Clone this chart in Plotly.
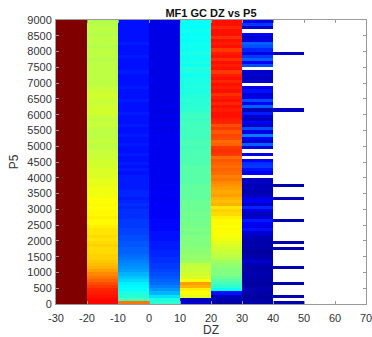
import plotly.graph_objects as go

nan = None

# DZ bin centers (columns) and P5 bin centers (rows, 100-wide bins from 0 to 9000)
dz_centers = [-25, -15, -5, 5, 15, 25, 35, 45]
p5_centers = [50 + 100 * i for i in range(90)]

x_ticks = [-30, -20, -10, 0, 10, 20, 30, 40, 50, 60, 70]
y_ticks = [0, 500, 1000, 1500, 2000, 2500, 3000, 3500, 4000, 4500,
           5000, 5500, 6000, 6500, 7000, 7500, 8000, 8500, 9000]

# normalized values (0..1 on jet scale); each list runs from P5 bin 0-100 upward
col_m25 = [1.0, 1.0, 1.0, 1.0, 1.0, 1.0, 1.0, 1.0, 1.0, 1.0,
           1.0, 1.0, 1.0, 1.0, 1.0, 1.0, 1.0, 1.0, 1.0, 1.0,
           1.0, 1.0, 1.0, 1.0, 1.0, 1.0, 1.0, 1.0, 1.0, 1.0,
           1.0, 1.0, 1.0, 1.0, 1.0, 1.0, 1.0, 1.0, 1.0, 1.0,
           1.0, 1.0, 1.0, 1.0, 1.0, 1.0, 1.0, 1.0, 1.0, 1.0,
           1.0, 1.0, 1.0, 1.0, 1.0, 1.0, 1.0, 1.0, 1.0, 1.0,
           1.0, 1.0, 1.0, 1.0, 1.0, 1.0, 1.0, 1.0, 1.0, 1.0,
           1.0, 1.0, 1.0, 1.0, 1.0, 1.0, 1.0, 1.0, 1.0, 1.0,
           1.0, 1.0, 1.0, 1.0, 1.0, 1.0, 1.0, 1.0, 1.0, 1.0]

col_m15 = [0.87, 0.87, 0.86, 0.85, 0.84, 0.82, 0.80, 0.78, 0.76, 0.74,
           0.72, 0.70, 0.69, 0.68, 0.67, 0.67, 0.66, 0.66, 0.67, 0.66,
           0.65, 0.66, 0.65, 0.65, 0.64, 0.63, 0.63, 0.64, 0.63, 0.63,
           0.62, 0.63, 0.62, 0.62, 0.61, 0.61, 0.61, 0.60, 0.60, 0.60,
           0.59, 0.59, 0.59, 0.58, 0.58, 0.58, 0.57, 0.57, 0.57, 0.56,
           0.56, 0.57, 0.56, 0.56, 0.56, 0.56, 0.57, 0.57, 0.56, 0.57,
           0.58, 0.58, 0.58, 0.57, 0.57, 0.58, 0.58, 0.57, 0.57, 0.56,
           0.56, 0.56, 0.56, 0.56, 0.56, 0.56, 0.56, 0.55, 0.56, 0.56,
           0.56, 0.55, 0.56, 0.56, 0.56, 0.55, 0.56, 0.56, 0.55, 0.55]

col_m5 = [0.76, 0.44, 0.42, 0.40, 0.38, 0.37, 0.36, 0.34, 0.32, 0.30,
          0.28, 0.27, 0.26, 0.25, 0.24, 0.23, 0.22, 0.22, 0.21, 0.21,
          0.20, 0.20, 0.19, 0.19, 0.18, 0.18, 0.18, 0.17, 0.17, 0.17,
          0.16, 0.17, 0.16, 0.15, 0.16, 0.16, 0.15, 0.15, 0.15, 0.15,
          0.15, 0.14, 0.15, 0.14, 0.15, 0.14, 0.14, 0.15, 0.14, 0.14,
          0.15, 0.14, 0.14, 0.15, 0.14, 0.14, 0.15, 0.14, 0.14, 0.14,
          0.15, 0.14, 0.14, 0.14, 0.15, 0.14, 0.14, 0.14, 0.15, 0.14,
          0.14, 0.14, 0.14, 0.15, 0.14, 0.14, 0.14, 0.14, 0.15, 0.14,
          0.14, 0.14, 0.15, 0.14, 0.14, 0.14, 0.14, 0.14, 0.14, 0.14]

col_5 = [0.42, 0.40, 0.35, 0.30, 0.27, 0.25, 0.23, 0.22, 0.21, 0.20,
         0.19, 0.18, 0.18, 0.17, 0.17, 0.16, 0.16, 0.15, 0.15, 0.15,
         0.14, 0.14, 0.14, 0.13, 0.13, 0.13, 0.13, 0.12, 0.12, 0.12,
         0.12, 0.12, 0.12, 0.11, 0.12, 0.12, 0.11, 0.12, 0.11, 0.11,
         0.11, 0.11, 0.11, 0.11, 0.11, 0.11, 0.11, 0.11, 0.11, 0.11,
         0.11, 0.11, 0.11, 0.11, 0.11, 0.10, 0.11, 0.11, 0.10, 0.11,
         0.10, 0.10, 0.11, 0.10, 0.10, 0.10, 0.10, 0.10, 0.10, 0.10,
         0.10, 0.10, 0.10, 0.10, 0.10, 0.10, 0.10, 0.10, 0.10, 0.10,
         0.10, 0.10, 0.10, 0.10, 0.10, 0.10, 0.10, 0.10, 0.10, 0.10]

col_15 = [0.08, 0.06, 0.60, 0.62, 0.64, 0.70, 0.72, 0.62, 0.59, 0.58,
          0.57, 0.57, 0.56, 0.53, 0.52, 0.52, 0.51, 0.51, 0.50, 0.50,
          0.50, 0.50, 0.49, 0.50, 0.49, 0.49, 0.49, 0.48, 0.49, 0.48,
          0.48, 0.48, 0.48, 0.47, 0.47, 0.47, 0.47, 0.47, 0.46, 0.46,
          0.46, 0.46, 0.46, 0.46, 0.45, 0.45, 0.45, 0.45, 0.45, 0.44,
          0.45, 0.45, 0.44, 0.44, 0.44, 0.44, 0.44, 0.44, 0.43, 0.44,
          0.43, 0.42, 0.42, 0.41, 0.42, 0.41, 0.41, 0.40, 0.41, 0.40,
          0.40, 0.40, 0.39, 0.40, 0.41, 0.39, 0.40, 0.39, 0.39, 0.40,
          0.39, 0.39, 0.39, 0.38, 0.39, 0.38, 0.39, 0.38, 0.38, 0.39]

col_25 = [0.04, 0.05, 0.06, 0.14, 0.38, 0.42, 0.44, 0.46, 0.48, 0.50,
          0.50, 0.51, 0.52, 0.53, 0.55, 0.56, 0.57, 0.58, 0.59, 0.60,
          0.61, 0.62, 0.62, 0.63, 0.62, 0.63, 0.63, 0.64, 0.66, 0.67,
          0.65, 0.70, 0.69, 0.70, 0.72, 0.71, 0.72, 0.73, 0.74, 0.76,
          0.75, 0.77, 0.78, 0.77, 0.78, 0.79, 0.77, 0.82, 0.83, 0.82,
          0.78, 0.77, 0.80, 0.81, 0.79, 0.82, 0.80, 0.84, 0.85, 0.86,
          0.86, 0.85, 0.86, 0.84, 0.86, 0.85, 0.83, 0.86, 0.85, 0.86,
          0.84, 0.86, 0.85, 0.82, 0.86, 0.85, 0.86, 0.83, 0.86, 0.85,
          0.82, 0.86, 0.85, 0.86, 0.83, 0.86, 0.86, 0.84, 0.86, 0.86]

col_35 = [0.04, 0.04, 0.03, 0.04, 0.05, 0.04, 0.03, 0.04, 0.04, 0.05,
          0.04, 0.04, 0.05, 0.08, 0.05, 0.04, 0.03, 0.04, 0.05, 0.04,
          0.05, 0.06, 0.08, 0.14, 0.10, 0.12, 0.15, 0.08, 0.06, 0.10,
          0.16, 0.07, 0.12, 0.10, 0.06, 0.05, 0.06, 0.05, 0.07, 0.06,
          nan, 0.12, 0.14, 0.18, 0.17, 0.12, nan, 0.10, nan, 0.10,
          0.22, 0.08, 0.12, 0.25, 0.10, 0.20, 0.07, 0.12, 0.06, 0.08,
          0.15, 0.06, 0.22, 0.12, 0.20, 0.10, 0.09, 0.14, 0.10, nan,
          0.08, 0.06, 0.08, 0.07, nan, 0.20, 0.12, 0.22, 0.18, 0.10,
          0.16, 0.20, 0.22, 0.10, 0.08, 0.12, nan, 0.08, 0.18, 0.10]

col_45 = [0.05, nan, 0.05, nan, nan, nan, 0.05, nan, nan, nan,
          nan, 0.05, nan, nan, nan, nan, nan, 0.05, nan, 0.05,
          nan, nan, nan, nan, nan, nan, 0.05, nan, nan, nan,
          nan, nan, nan, 0.06, nan, nan, nan, 0.05, nan, nan,
          nan, nan, nan, nan, nan, nan, nan, nan, nan, nan,
          nan, nan, nan, nan, nan, nan, nan, nan, nan, nan,
          nan, 0.07, nan, nan, nan, nan, nan, nan, nan, nan,
          nan, nan, nan, nan, nan, nan, nan, nan, nan, 0.07,
          nan, nan, nan, nan, nan, nan, nan, nan, nan, nan]

columns = [col_m25, col_m15, col_m5, col_5, col_15, col_25, col_35, col_45]
z = [[columns[c][r] for c in range(len(columns))] for r in range(len(p5_centers))]

jet = [[0.0, "rgb(0,0,128)"], [0.125, "rgb(0,0,255)"], [0.375, "rgb(0,255,255)"],
       [0.625, "rgb(255,255,0)"], [0.875, "rgb(255,0,0)"], [1.0, "rgb(128,0,0)"]]

fig = go.Figure(go.Heatmap(
    x=dz_centers, y=p5_centers, z=z, zmin=0, zmax=1,
    colorscale=jet, showscale=False, hoverongaps=False,
))

font_family = "Arial, Liberation Sans, Helvetica, sans-serif"
axis_common = dict(
    showline=True, linecolor="#9a9a9a", linewidth=1, mirror="ticks",
    ticks="inside", ticklen=3, tickcolor="#9a9a9a",
    showgrid=False, zeroline=False, ticklabeloverflow="allow", automargin=False,
    tickfont=dict(family=font_family, size=11, color="#333333"),
)

fig.update_layout(
    width=372, height=337,
    margin=dict(l=56, r=6, t=20, b=33),
    paper_bgcolor="white", plot_bgcolor="white",
    title=dict(text="<b>MF1 GC DZ vs P5</b>", x=0.5, xref="paper", xanchor="center",
               y=0.962, yref="container", yanchor="middle",
               font=dict(family=font_family, size=11, color="#111111")),
    xaxis=dict(range=[-30, 70], tickvals=x_ticks, ticktext=[str(t) for t in x_ticks],
               ticklabelstandoff=4,
               title=dict(text="DZ", standoff=0,
                          font=dict(family=font_family, size=12, color="#333333")),
               **axis_common),
    yaxis=dict(range=[0, 9000], tickvals=y_ticks, ticktext=[str(t) for t in y_ticks],
               ticklabelstandoff=1,
               title=dict(text="P5", standoff=6,
                          font=dict(family=font_family, size=12, color="#333333")),
               **axis_common),
)

fig.write_html("out.html")
